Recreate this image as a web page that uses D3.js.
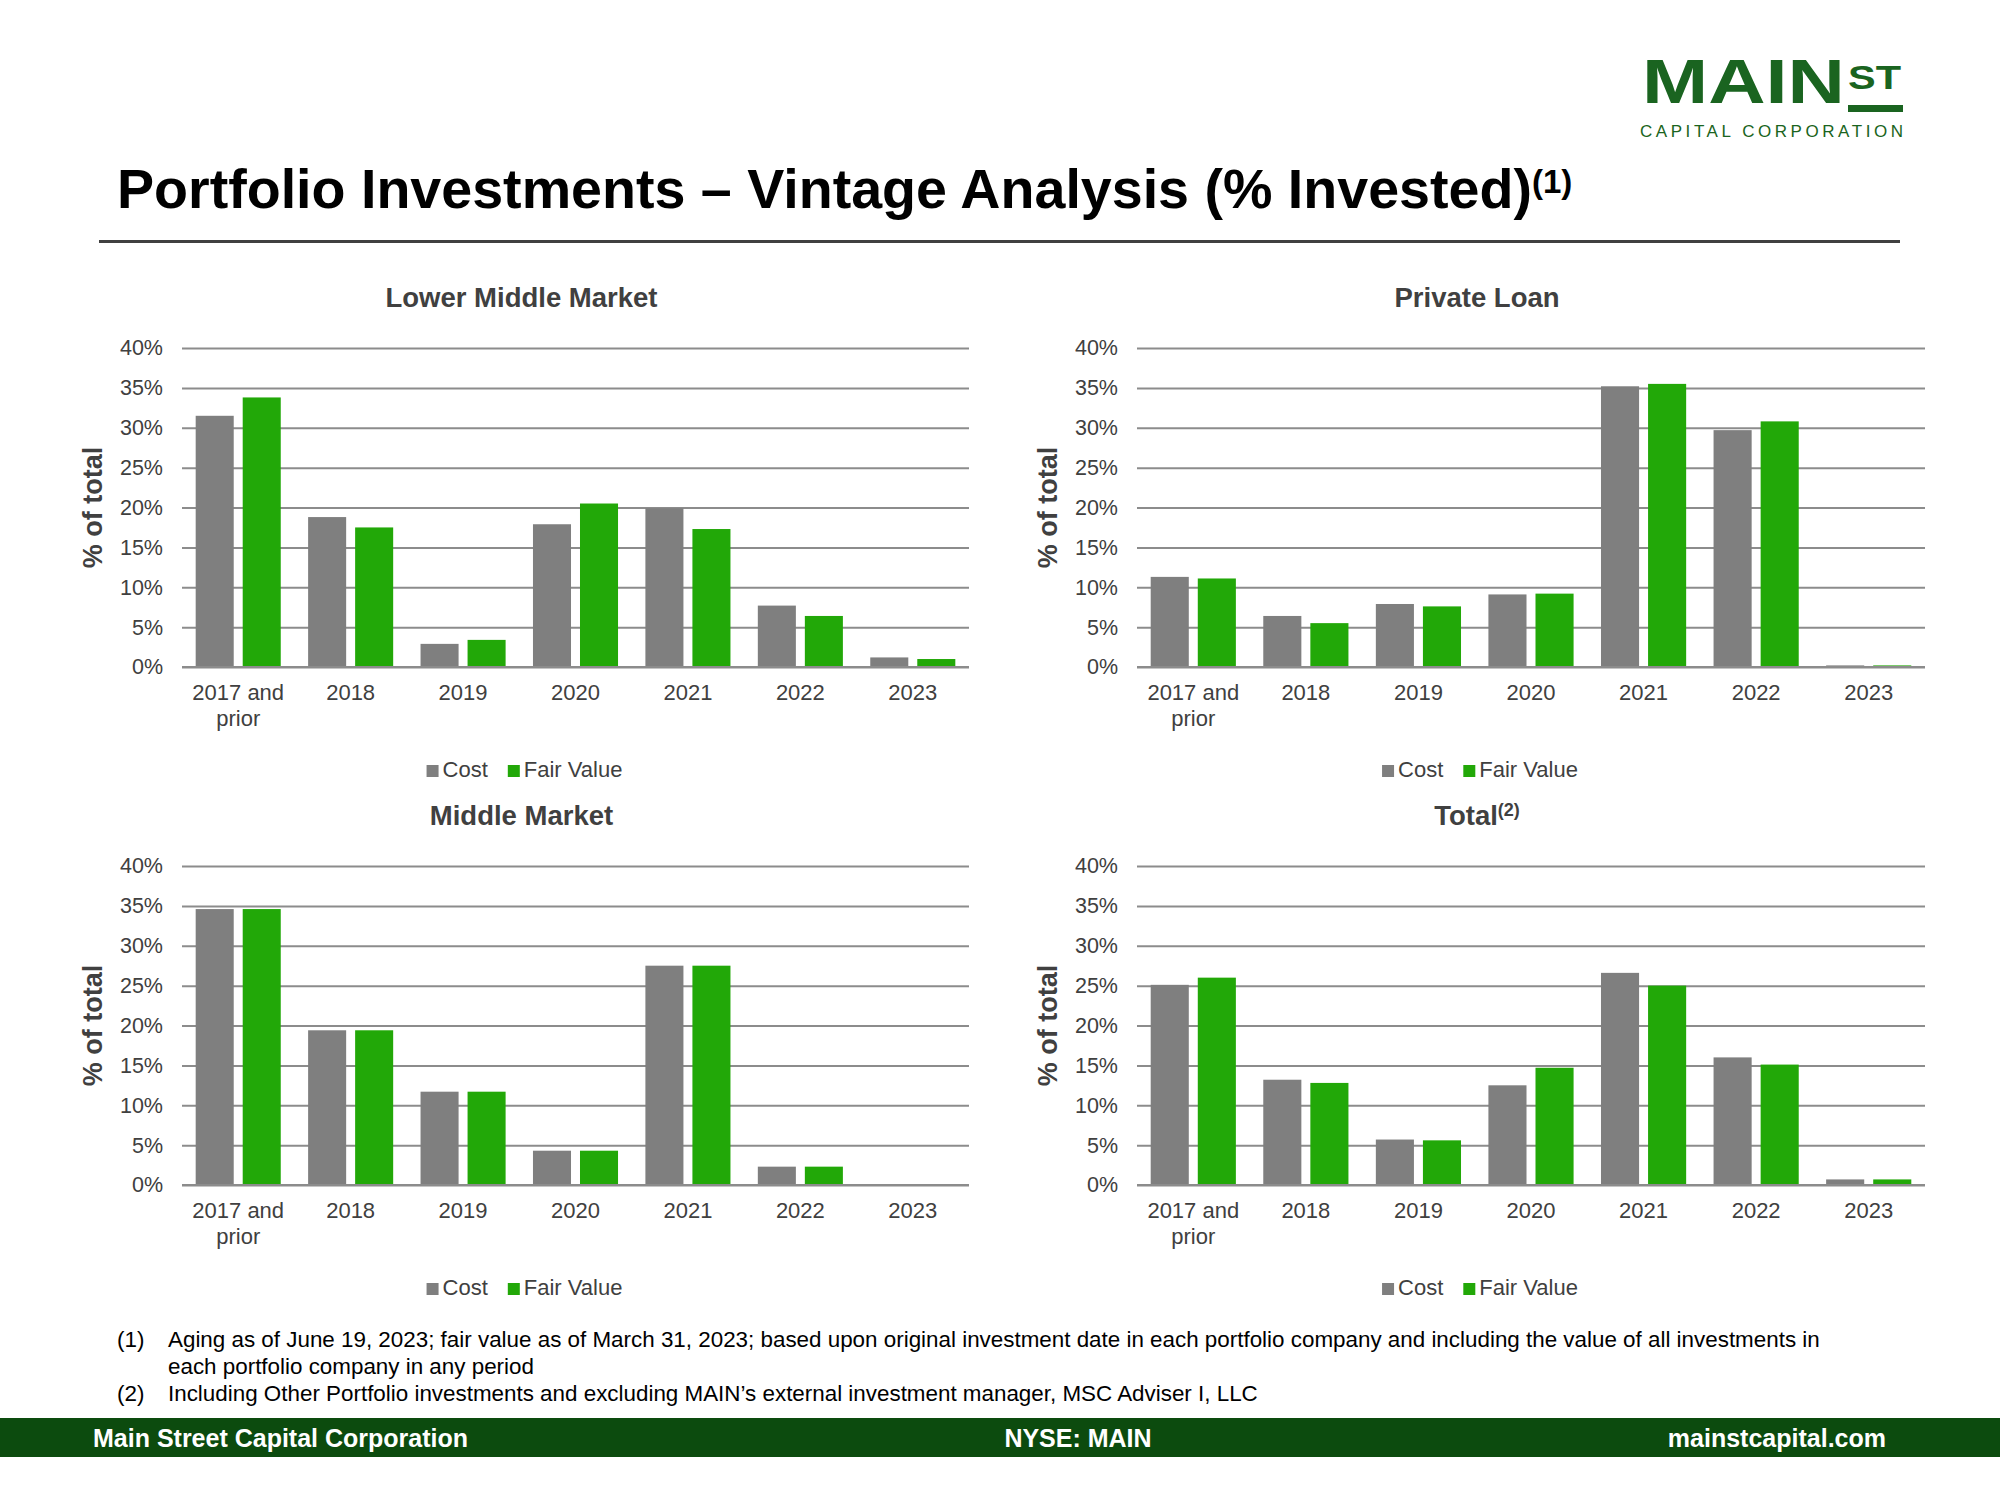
<!DOCTYPE html>
<html>
<head>
<meta charset="utf-8">
<script src="https://cdn.jsdelivr.net/npm/d3@7"></script>
<style>
  html, body { margin: 0; padding: 0; background: #ffffff; }
  svg { display: block; }
  text { font-family: "Liberation Sans", Arial, sans-serif; }
</style>
</head>
<body>
<svg id="chart" width="2000" height="1500"></svg>
<script>
// ---------------- DATA ----------------
const categories = ["2017 and prior", "2018", "2019", "2020", "2021", "2022", "2023"];
const seriesNames = ["Cost", "Fair Value"];
const yTickValues = [0, 5, 10, 15, 20, 25, 30, 35, 40];

const lmmCost   = [31.5, 18.8, 2.9, 17.9, 19.9, 7.7, 1.2];
const lmmFair   = [33.8, 17.5, 3.4, 20.5, 17.3, 6.4, 1.0];
const plCost    = [11.3, 6.4, 7.9, 9.1, 35.2, 29.7, 0.2];
const plFair    = [11.1, 5.5, 7.6, 9.2, 35.5, 30.8, 0.2];
const mmCost    = [34.6, 19.4, 11.7, 4.3, 27.5, 2.3, 0];
const mmFair    = [34.6, 19.4, 11.7, 4.3, 27.5, 2.3, 0];
const totalCost = [25.1, 13.2, 5.7, 12.5, 26.6, 16.0, 0.7];
const totalFair = [26.0, 12.8, 5.6, 14.7, 25.0, 15.1, 0.7];

const panelTitles = ["Lower Middle Market", "Private Loan", "Middle Market", "Total"];
const panelTitleSups = ["", "", "", "(2)"];

const pageTitle = "Portfolio Investments \u2013 Vintage Analysis (% Invested)";
const pageTitleSup = "(1)";
const yAxisTitle = "% of total";
const footnotes = [
  ["(1)", "Aging as of June 19, 2023; fair value as of March 31, 2023; based upon original investment date in each portfolio company and including the value of all investments in"],
  ["", "each portfolio company in any period"],
  ["(2)", "Including Other Portfolio investments and excluding MAIN\u2019s external investment manager, MSC Adviser I, LLC"]
];
const footerLeft = "Main Street Capital Corporation";
const footerMid = "NYSE: MAIN";
const footerRight = "mainstcapital.com";

// ---------------- STYLE / LAYOUT ----------------
const COLORS = { "Cost": "#7f7f7f", "Fair Value": "#22a808" };
const GRID = "#8c8c8c";
const TXT = "#404040";
const FONT = '"Liberation Sans", Arial, sans-serif';

const panelData = [
  { cost: lmmCost, fair: lmmFair },
  { cost: plCost, fair: plFair },
  { cost: mmCost, fair: mmFair },
  { cost: totalCost, fair: totalFair }
];
const panelBoxes = [
  { x0: 182, x1: 969, y0: 348, y1: 667 },
  { x0: 1137, x1: 1925, y0: 348, y1: 667 },
  { x0: 182, x1: 969, y0: 866, y1: 1185 },
  { x0: 1137, x1: 1925, y0: 866, y1: 1185 }
];

const svg = d3.select("#chart");

// ---------------- LOGO ----------------
const logoGreen = "#1a6420";
const logo = svg.append("g");
logo.append("text").attr("x", 1642).attr("y", 103)
  .attr("font-size", 63).attr("font-weight", "bold").attr("fill", logoGreen)
  .attr("textLength", 203).attr("lengthAdjust", "spacingAndGlyphs")
  .text("MAIN");
logo.append("text").attr("x", 1848).attr("y", 89)
  .attr("font-size", 34).attr("font-weight", "bold").attr("fill", logoGreen)
  .attr("textLength", 53).attr("lengthAdjust", "spacingAndGlyphs")
  .text("ST");
logo.append("rect").attr("x", 1848).attr("y", 105).attr("width", 55).attr("height", 7).attr("fill", logoGreen);
logo.append("text").attr("x", 1640).attr("y", 137)
  .attr("font-size", 17).attr("fill", logoGreen)
  .attr("textLength", 263).attr("lengthAdjust", "spacing")
  .text("CAPITAL CORPORATION");

// ---------------- PAGE TITLE ----------------
const t = svg.append("text").attr("x", 117).attr("y", 208)
  .attr("font-size", 55.6).attr("font-weight", "bold").attr("fill", "#000");
t.append("tspan").text(pageTitle);
t.append("tspan").attr("font-size", 33).attr("dy", -15).text(pageTitleSup);

svg.append("rect").attr("x", 99).attr("y", 240).attr("width", 1801).attr("height", 3).attr("fill", "#404040");

// ---------------- PANELS ----------------
function splitLabel(s) {
  const i = s.indexOf(" and ");
  if (i >= 0) return [s.slice(0, i + 4), s.slice(i + 5)];
  return [s];
}

panelBoxes.forEach((b, pi) => {
  const g = svg.append("g");
  const x = d3.scaleBand().domain(categories).range([b.x0, b.x1]).paddingInner(0).paddingOuter(0);
  const xs = d3.scaleBand().domain(seriesNames).range([0, x.bandwidth()]).paddingInner(0.191).paddingOuter(0.291);
  const y = d3.scaleLinear().domain([0, 40]).range([b.y1, b.y0]);

  // gridlines via axis
  const yAxis = d3.axisLeft(y).tickValues(yTickValues).tickSize(-(b.x1 - b.x0)).tickFormat(d => d + "%").tickPadding(19);
  const ag = g.append("g").attr("transform", `translate(${b.x0},0)`).call(yAxis);
  ag.select(".domain").remove();
  ag.selectAll(".tick line").attr("stroke", GRID).attr("stroke-width", 2);
  ag.selectAll(".tick text").attr("font-family", FONT).attr("font-size", 21.5).attr("fill", TXT);

  // bars
  const rows = categories.map((c, i) => ({ cat: c, vals: [
    { s: "Cost", v: panelData[pi].cost[i] },
    { s: "Fair Value", v: panelData[pi].fair[i] }
  ]}));
  const cg = g.append("g").selectAll("g").data(rows).join("g")
    .attr("transform", d => `translate(${x(d.cat)},0)`);
  cg.selectAll("rect").data(d => d.vals).join("rect")
    .attr("x", d => xs(d.s))
    .attr("width", xs.bandwidth())
    .attr("y", d => y(d.v))
    .attr("height", d => y(0) - y(d.v))
    .attr("fill", d => COLORS[d.s]);

  // baseline above bars
  g.append("line").attr("x1", b.x0).attr("x2", b.x1).attr("y1", y(0)).attr("y2", y(0))
    .attr("stroke", GRID).attr("stroke-width", 2);

  // category labels
  const xl = g.append("g").selectAll("text").data(categories).join("text")
    .attr("x", d => x(d) + x.bandwidth() / 2)
    .attr("y", b.y1 + 33)
    .attr("text-anchor", "middle").attr("font-size", 22).attr("fill", TXT);
  xl.each(function(d) {
    const lines = splitLabel(d);
    const el = d3.select(this);
    lines.forEach((ln, li) => {
      el.append("tspan").attr("x", x(d) + x.bandwidth() / 2).attr("dy", li === 0 ? 0 : 26).text(ln);
    });
  });

  // y axis title
  const cy = (b.y0 + b.y1) / 2;
  g.append("text").attr("transform", `translate(${b.x0 - 80},${cy}) rotate(-90)`)
    .attr("text-anchor", "middle").attr("font-size", 27).attr("font-weight", "bold").attr("fill", TXT)
    .text(yAxisTitle);

  // panel title
  const cx = (b.x0 + b.x1) / 2 - 54;
  const pt = g.append("text").attr("x", cx).attr("y", b.y0 - 41)
    .attr("text-anchor", "middle").attr("font-size", 27.5).attr("font-weight", "bold").attr("fill", TXT);
  pt.append("tspan").text(panelTitles[pi]);
  if (panelTitleSups[pi]) pt.append("tspan").attr("font-size", 18).attr("dy", -9).text(panelTitleSups[pi]);

  // legend
  const lg = g.append("g");
  let off = 0;
  seriesNames.forEach((s, si) => {
    lg.append("rect").attr("x", off).attr("y", -12).attr("width", 12).attr("height", 12).attr("fill", COLORS[s]);
    const tx = lg.append("text").attr("x", off + 16).attr("y", 0).attr("font-size", 22).attr("fill", TXT).text(s);
    off += 16 + tx.node().getComputedTextLength() + 20;
  });
  const lw = off - 20;
  lg.attr("transform", `translate(${(b.x0 + b.x1) / 2 - 51 - lw / 2},${b.y1 + 110})`);
});

// ---------------- FOOTNOTES ----------------
footnotes.forEach((f, i) => {
  const yy = 1347 + i * 27;
  if (f[0]) svg.append("text").attr("x", 117).attr("y", yy).attr("font-size", 22.4).attr("fill", "#000").text(f[0]);
  svg.append("text").attr("x", 168).attr("y", yy).attr("font-size", 22.4).attr("fill", "#000").text(f[1]);
});

// ---------------- FOOTER ----------------
svg.append("rect").attr("x", 0).attr("y", 1418).attr("width", 2000).attr("height", 39).attr("fill", "#0c4b0e");
svg.append("text").attr("x", 93).attr("y", 1447).attr("font-size", 25).attr("font-weight", "bold").attr("fill", "#fff").text(footerLeft);
svg.append("text").attr("x", 1078).attr("y", 1447).attr("text-anchor", "middle").attr("font-size", 25).attr("font-weight", "bold").attr("fill", "#fff").text(footerMid);
svg.append("text").attr("x", 1886).attr("y", 1447).attr("text-anchor", "end").attr("font-size", 25).attr("font-weight", "bold").attr("fill", "#fff").text(footerRight);
</script>
</body>
</html>
